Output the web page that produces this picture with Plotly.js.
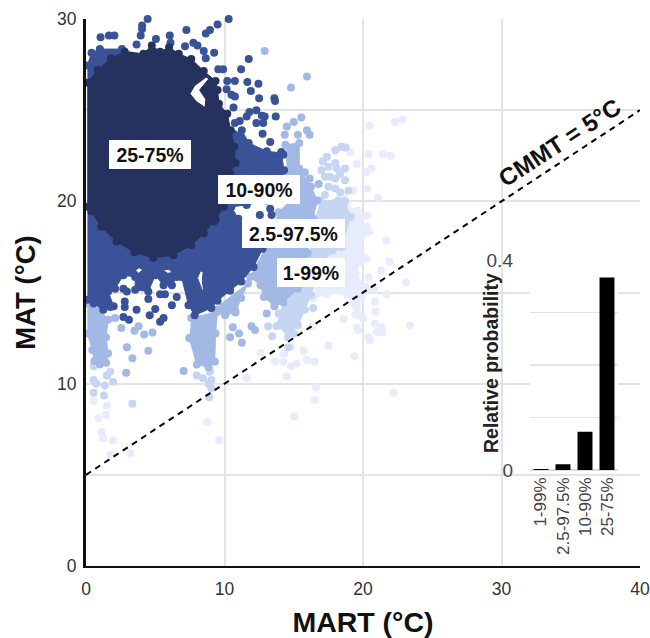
<!DOCTYPE html>
<html><head><meta charset="utf-8">
<script src="https://cdn.plot.ly/plotly-3.0.1.min.js"></script>
<style>html,body{margin:0;padding:0;background:#fff}</style></head>
<body><div id="chart" style="width:650px;height:638px"></div>
<script>
// --- dense cores (outlines, MART / MAT in °C)
const darkCoreX=[0.1,0.85,1.8,2.8,4.15,4.75,5.35,6.0,6.7,7.6,8.5,9.35,9.5,9.6,10.2,10.45,10.7,10.8,10.4,9.95,9.95,9.35,9.25,8.5,7.6,6.3,4.85,3.5,2.2,1.1,0.4,0.1];
const darkCoreY=[26.5,27.2,27.85,28.2,28.1,28.55,28.2,28.45,28.1,27.8,27.15,26.6,26.1,25.35,24.8,23.9,23.0,22.1,21.55,21.0,19.7,19.0,18.9,18.25,17.6,17.05,16.9,17.2,17.8,18.6,19.45,19.7];
const darkHoleX=[8.65,7.85,7.5,8.0,8.6,8.65,8.2,8.85];
const darkHoleY=[26.8,26.35,25.9,25.45,25.15,25.6,26.1,26.7];
const blueCoreX=[0.1,0.4,1.0,2.6,3.2,6.8,10.65,11.25,11.75,13.05,14.1,14.3,14.0,13.05,11.6,10.5,11.0,12.05,12.75,12.1,11.2,10.4,9.5,9.05,7.85,7.4,6.9,6.55,6.2,5.6,5.0,4.5,3.55,3.55,2.7,2.1,1.6,2.0,1.25,0.55,0.1];
const blueCoreY=[27.45,28.15,28.35,28.35,28.0,23.7,23.7,23.9,23.2,22.75,22.65,21.7,21.45,20.05,19.8,19.7,19.05,18.25,17.4,16.4,15.6,15.1,14.55,14.15,13.75,14.3,15.85,15.85,15.4,15.4,15.95,15.05,15.15,15.85,15.95,15.2,15.05,14.25,14.05,14.4,14.6];
const blueSlit1X=[8.25,8.05,8.35,8.5,8.4,8.45];
const blueSlit1Y=[16.15,15.8,15.2,15.0,15.65,16.1];
const blueSlit2X=[5.6,5.9,6.25,6.0];
const blueSlit2Y=[16.2,16.05,16.1,16.25];
const blueSlit3X=[3.6,3.8,4.1,3.85];
const blueSlit3Y=[16.2,16.05,16.25,16.35];
const midLeftX=[0.1,1.0,1.6,1.45,1.6,1.45,1.0,0.6,0.45,0.1];
const midLeftY=[14.4,14.05,13.5,12.55,11.65,11.15,11.05,11.25,11.85,12.75];
const midCentreX=[7.6,9.5,9.35,9.3,8.85,8.0,7.45];
const midCentreY=[13.6,13.95,12.75,11.2,10.9,11.05,12.5];
const midBridgeX=[9.2,11.7,11.2,10.8,10.05,9.45];
const midBridgeY=[14.05,15.5,14.7,13.9,13.75,14.05];
const midRightX=[14.4,15.4,15.4,16.25,16.7,16.4,16.0,15.3,14.25,13.6,12.85,12.6,11.85,12.95,13.9,14.7,14.5];
const midRightY=[23.1,23.2,21.8,20.8,20.05,19.05,17.15,15.2,14.45,14.25,14.75,15.4,15.85,17.4,19.4,20.0,21.55];
const lightCoreX=[16.9,18.7,19.1,18.45,17.15,16.25,15.8,15.3,14.6,13.9,13.9,15.0,16.15,16.55];
const lightCoreY=[20.05,20.0,19.15,17.5,16.85,14.85,14.05,13.2,12.55,13.2,13.85,15.2,17.15,19.05];
const paleCoreX=[17.35,16.4,17.15,18.8,19.85,20.2,19.85,19.85,19.45,20.2,20.8,19.9,19.7,19.45,18.85];
const paleCoreY=[14.9,14.7,16.85,19.95,19.1,18.3,17.15,16.7,16.05,15.3,15.15,14.75,13.8,13.8,14.9];
// --- scattered points
const blueDotsX=[4.45,10.3,4.05,4.05,3.95,9.5,8.95,8.65,7.25,1.05,1.65,2.05,5.05,6.05,3.65,6.1,7.15,7.75,8.05,8.5,9.25,8.65,11.75,11.2,9.9,9.55,11.65,12.45,11.9,12.5,13.6,13.65,10.2,10.75,10.15,10.75,10.5,10.65,13.7,12.75,11.8,12.3,12.7,12.9,11.6,11.1,12.3,12.8,10.75,13.3,14.1,14.25,13.9,12.55,13.3,13.4,2.7,2.95,2.8,2.8,3.65,2.7,3.1,4.6,5.35,5.6,5.0,5.35,5.7,6.55,6.2,4.5,1.75];
const blueDotsY=[30,30,29.65,29.45,29.1,29.7,29.4,29.2,29.4,29.0,29.1,29.1,28.9,29.1,28.6,28.7,28.5,28.7,28.55,28.25,28.15,27.85,27.8,27.25,27.25,27.25,26.55,26.45,26.05,25.65,25.65,25.5,26.6,26.6,26.15,25.75,25.85,25.15,24.65,23.7,24.9,25.0,24.7,24.65,24.65,24.4,24.3,24.3,24.3,23.25,22.7,22.55,22.25,19.25,19.6,19.25,15.2,15.05,14.5,14.2,14.05,13.65,13.5,13.75,13.4,13.6,14.1,14.9,14.9,14.75,14.3,14.65,14.2];
const midDotsX=[12.9,15.95,14.8,14.5,15.0,15.55,15.95,16.15,14.35,15.3,15.8,16.15,16.8,2.55,3.5,3.8,4.2,4.8,2.95,3.35,4.5,2.9,7.05,10.4,10.6,11.05,11.25,11.95,12.2,13.05,10.75,2.1];
const midDotsY=[28.25,26.85,26.25,24.1,24.35,24.6,23.9,23.65,23.65,23.65,21.6,21.25,20.95,13.05,12.9,13.15,12.7,12.8,12.0,11.4,11.8,10.6,10.7,12.55,13.1,12.75,12.25,13.15,12.95,13.85,14.05,13.6];
const lightDotsX=[17.1,17.0,17.25,17.4,18.0,18.45,18.75,18.0,18.1,18.7,18.0,18.7,17.25,18.35,18.2,18.95,17.85,0.55,0.75,1.35,1.95,1.75,1.5,0.55,0.55,1.3,3.35,8.0,8.45,8.85,9.05,9.05,8.95,8.9,13.15,13.75,13.45,15.0,14.6,17.8,16.4,17.5,17.6,17.5,18.35,18.0];
const lightDotsY=[22.2,21.7,21.35,22.45,22.8,23.0,22.95,22.1,21.8,21.8,21.25,21.15,20.35,20.5,20.05,20.6,19.9,10.95,10.0,9.9,10.1,10.65,10.45,10.2,9.5,9.35,8.9,10.45,10.3,10.0,10.2,9.75,10.65,9.25,13.15,13.15,12.6,12.75,12.0,17.3,14.15,21.9,21.35,20.8,21.5,20.7];
const paleDotsX=[20.45,22.3,22.85,20.4,21.45,22.0,19.55,20.6,20.25,20.3,21.1,19.6,20.3,19.3,19.1,18.6,19.3,20.25,20.45,21.7,19.55,19.3,20.25,21.9,21.3,20.4,23.1,20.75,21.7,20.85,20.9,18.6,20.0,19.55,20.85,21.35,21.4,21.0,23.4,20.4,20.5,19.65,17.5,19.4,16.35,15.7,15.95,16.5,14.8,14.3,13.65,14.25,14.8,15.2,14.5,16.6,16.5,22.2,15.05,12.6,11.6,8.75,9.6,3.2,1.8,1.95,1.15,1.25,0.9,1.45,1.5,0.55];
const paleDotsY=[24.15,24.35,24.5,22.6,22.6,22.5,22.05,21.8,21.6,20.7,20.2,19.5,19.2,20.6,22.7,20.25,18.4,18.6,18.35,17.85,17.15,16.7,16.85,16.7,16.2,15.85,15.55,15.2,14.9,14.5,13.95,13.55,13.6,13.1,13.3,13.1,12.8,12.85,13.2,12.55,12.4,12.95,12.1,11.5,13.15,11.8,11.3,11.2,12.0,11.65,11.2,11.2,10.95,11.1,10.4,9.8,9.1,9.5,8.2,11.7,10.3,7.9,6.9,6.2,6.1,6.9,7.35,7.0,8.1,8.3,8.8,9.05];
// --- CMMT = 5 °C line
const lineX=[0,40];
const lineY=[5,25];
// --- inset
const insetCategories=['1-99%','2.5-97.5%','10-90%','25-75%'];
const insetValues=[0.002,0.011,0.073,0.367];
const mainXTicks=[0,10,20,30,40];
const mainYTicks=[0,5,10,15,20,25,30];
const mainYLabels=['0','','10','','20','','30'];
const insetYTicks=[0,0.1,0.2,0.3,0.4];
const insetYLabels=['0','','','','0.4'];
const labelTexts=['25-75%','10-90%','2.5-97.5%','1-99%'];
const labelX=[4.62,12.5,15.0,16.25];
const labelY=[22.55,20.65,18.25,16.1];
const labelW=[82,82,103,68];

const PALE='#e6ecfb',LIGHT='#c6d5f2',MID='#a2b8e5',BLUE='#3a5298',DARK='#25315f';
const joined=(...parts)=>parts.reduce((a,p,i)=>i?a.concat([null],p):p.slice(),[]);
function core(x,y,c){return {x,y,type:'scatter',mode:'lines',fill:'toself',fillcolor:c,line:{color:c,width:1},hoverinfo:'skip',showlegend:false};}
function dots(x,y,c){return {x,y,type:'scatter',mode:'markers',marker:{color:c,size:8},cliponaxis:false,hoverinfo:'skip',showlegend:false};}
const data=[
 core(paleCoreX,paleCoreY,PALE),dots(paleCoreX,paleCoreY,PALE),dots(paleDotsX,paleDotsY,PALE),
 core(lightCoreX,lightCoreY,LIGHT),dots(lightCoreX,lightCoreY,LIGHT),dots(lightDotsX,lightDotsY,LIGHT),
 core(joined(midLeftX,midCentreX,midBridgeX,midRightX),joined(midLeftY,midCentreY,midBridgeY,midRightY),MID),
 dots(joined(midLeftX,midCentreX,midBridgeX,midRightX),joined(midLeftY,midCentreY,midBridgeY,midRightY),MID),
 dots(midDotsX,midDotsY,MID),
 core(joined(blueCoreX,blueSlit1X,blueSlit2X,blueSlit3X),joined(blueCoreY,blueSlit1Y,blueSlit2Y,blueSlit3Y),BLUE),dots(blueCoreX,blueCoreY,BLUE),dots(blueDotsX,blueDotsY,BLUE),
 core(joined(darkCoreX,darkHoleX),joined(darkCoreY,darkHoleY),DARK),dots(darkCoreX,darkCoreY,DARK),
 {x:lineX,y:lineY,type:'scatter',mode:'lines',line:{color:'#000',width:2,dash:'6px,5px'},hoverinfo:'skip',showlegend:false},
 {x:insetCategories,y:insetValues,type:'bar',xaxis:'x2',yaxis:'y2',marker:{color:'#000'},width:0.68,hoverinfo:'skip',showlegend:false}
];
const F='"Liberation Sans",Arial,sans-serif';
const annotations=labelTexts.map((t,i)=>({x:labelX[i],y:labelY[i],xref:'x',yref:'y',text:'<b>'+t+'</b>',showarrow:false,
  font:{family:F,size:19.5,color:'#111'},bgcolor:'#fff',borderpad:0,borderwidth:0,width:labelW[i],height:29,align:'center',valign:'middle'}));
annotations.push({x:34.2,y:23.2,xref:'x',yref:'y',text:'<b>CMMT = 5°C</b>',showarrow:false,textangle:-33,font:{family:F,size:24,color:'#111'}});
annotations.push({x:0.731,y:0.371,xref:'paper',yref:'paper',xanchor:'center',yanchor:'middle',text:'<b>Relative probability</b>',showarrow:false,textangle:-90,font:{family:F,size:19.5,color:'#222'}});
const layout={
 width:650,height:638,autosize:false,paper_bgcolor:'#fff',plot_bgcolor:'#fff',showlegend:false,
 margin:{l:86,r:10,t:18.7,b:72},
 font:{family:F,color:'#333'},
 xaxis:{domain:[0,1],range:[0,40],tickvals:mainXTicks,ticktext:mainXTicks.map(String),showgrid:true,gridcolor:'#e3e3e3',gridwidth:2,zeroline:false,
   showline:true,linecolor:'#111',linewidth:2,ticks:'',ticklabelstandoff:6,tickfont:{size:17.5,color:'#333'},
   title:{text:'<b>MART (°C)</b>',font:{size:28.5,color:'#111'},standoff:14}},
 yaxis:{domain:[0,1],range:[0,30],tickvals:mainYTicks,ticktext:mainYLabels,showgrid:true,gridcolor:'#e3e3e3',gridwidth:2,zeroline:false,
   showline:true,linecolor:'#111',linewidth:3,ticks:'',ticklabelstandoff:3,tickfont:{size:17.5,color:'#333'},
   title:{text:'<b>MAT (°C)</b>',font:{size:27.5,color:'#111'},standoff:14}},
 xaxis2:{domain:[0.8014,0.9603],anchor:'y2',type:'category',categoryorder:'array',categoryarray:insetCategories,range:[-0.5,3.5],tickangle:-90,showgrid:false,showline:false,zeroline:false,ticks:'',ticklabelstandoff:3,tickfont:{size:17,color:'#444'}},
 yaxis2:{domain:[0.1754,0.5591],anchor:'x2',range:[0,0.4],tickvals:insetYTicks,ticktext:insetYLabels,showgrid:true,gridcolor:'#e3e3e3',gridwidth:1.5,zeroline:true,zerolinecolor:'#ddd',zerolinewidth:1.5,showline:false,ticks:'',ticklabelstandoff:16,tickfont:{size:19,color:'#444'}},
 shapes:[{type:'rect',xref:'paper',yref:'paper',x0:0.7043,x1:0.9982,y0:0.0037,y1:0.5829,layer:'between',fillcolor:'#fff',line:{width:0}}],
 annotations
};
Plotly.newPlot('chart',data,layout,{displayModeBar:false,staticPlot:true});
</script></body></html>
